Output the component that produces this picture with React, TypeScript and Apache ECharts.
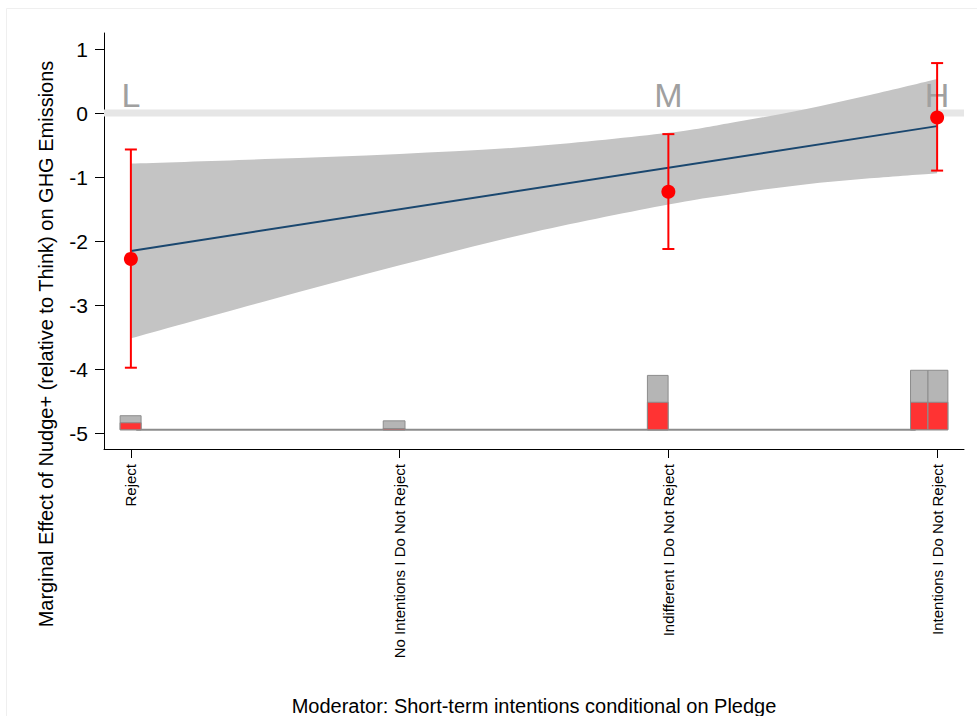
import React, { useEffect, useRef } from "react";
import * as echarts from "echarts";

// ---- Data ----
const categories = [
  "Reject",
  "No Intentions I Do Not Reject",
  "Indifferent I Do Not Reject",
  "Intentions I Do Not Reject",
];
const categoryPositions = [1, 2, 3, 4];
const yTicks = [-5, -4, -3, -2, -1, 0, 1];

const letterLabels = ["L", "M", "H"];
const letterX = [1, 3, 4];
const letterY = 0.28;

const pointX = [1, 3, 4];
const pointEst = [-2.28, -1.23, -0.07];
const ciLow = [-3.98, -2.125, -0.9];
const ciHigh = [-0.57, -0.33, 0.78];

const fitX = [1, 4];
const fitY = [-2.155, -0.205];

const bandX = [1, 1.5, 2, 2.5, 3, 3.25, 3.5, 3.75, 4];
const bandUpper = [-0.79, -0.72, -0.64, -0.52, -0.31, -0.14, 0.05, 0.28, 0.53];
const bandLower = [-3.52, -2.94, -2.38, -1.86, -1.43, -1.26, -1.12, -1.02, -0.94];

const histLeft = [0.96, 1.939, 2.922, 3.901, 3.966];
const histRight = [1.038, 2.02, 2.999, 3.966, 4.04];
const histTotal = [-4.73, -4.81, -4.1, -4.02, -4.02];
const histSubset = [-4.84, -4.93, -4.52, -4.52, -4.52];
const histBase = -4.95;
const baselineX = [1.02, 3.92];

const xTitle = "Moderator: Short-term intentions conditional on Pledge";
const yTitle = "Marginal Effect of Nudge+ (relative to Think) on GHG Emissions";

const FONT = "'Liberation Sans', Arial, Helvetica, sans-serif";

// smooth (Catmull-Rom) path segment through pixel points
function smoothSegs(pts: number[][]): string {
  let d = "";
  for (let i = 0; i < pts.length - 1; i++) {
    const p0 = pts[Math.max(0, i - 1)];
    const p1 = pts[i];
    const p2 = pts[i + 1];
    const p3 = pts[Math.min(pts.length - 1, i + 2)];
    const c1x = p1[0] + (p2[0] - p0[0]) / 6;
    const c1y = p1[1] + (p2[1] - p0[1]) / 6;
    const c2x = p2[0] - (p3[0] - p1[0]) / 6;
    const c2y = p2[1] - (p3[1] - p1[1]) / 6;
    d += ` C ${c1x} ${c1y} ${c2x} ${c2y} ${p2[0]} ${p2[1]}`;
  }
  return d;
}

export default function App() {
  const ref = useRef<HTMLDivElement>(null);

  useEffect(() => {
    if (!ref.current) return;
    const chart = echarts.init(ref.current, undefined, { renderer: "svg" });

    const option: any = {
      animation: false,
      backgroundColor: "#ffffff",
      grid: { left: 104, right: 13, top: 33, bottom: 267, containLabel: false },
      xAxis: {
        type: "value",
        min: 0.9,
        max: 4.1,
        splitLine: { show: false },
        axisLine: { show: true, onZero: false, lineStyle: { color: "#000", width: 1 } },
        axisTick: { show: true, length: 9, customValues: categoryPositions, lineStyle: { color: "#000" } },
        axisLabel: {
          customValues: categoryPositions,
          rotate: 90,
          margin: 15,
          fontSize: 15,
          fontFamily: FONT,
          color: "#000",
          formatter: (v: number) => {
            const i = categoryPositions.indexOf(Math.round(v));
            return i >= 0 ? categories[i] : "";
          },
        },
      },
      yAxis: {
        type: "value",
        min: -5.25,
        max: 1.25,
        splitLine: { show: false },
        axisLine: { show: true, onZero: false, lineStyle: { color: "#000", width: 1 } },
        axisTick: { show: true, length: 9, customValues: yTicks, lineStyle: { color: "#000" } },
        axisLabel: {
          customValues: yTicks,
          margin: 16,
          fontSize: 21,
          fontFamily: FONT,
          color: "#000",
        },
      },
      graphic: [
        {
          type: "rect",
          shape: { x: 6.5, y: 8.5, width: 1000, height: 1000 },
          style: { fill: "none", stroke: "#efefef", lineWidth: 1 },
          silent: true,
          z: -10,
        },
        {
          type: "text",
          x: 534,
          y: 706,
          style: {
            text: xTitle,
            fill: "#000",
            font: `20px ${FONT}`,
            align: "center",
            verticalAlign: "middle",
          },
        },
        {
          type: "text",
          x: 46,
          y: 344,
          rotation: Math.PI / 2,
          style: {
            text: yTitle,
            fill: "#000",
            font: `20px ${FONT}`,
            align: "center",
            verticalAlign: "middle",
          },
        },
      ],
      series: [
        // zero reference line
        {
          type: "line",
          data: [
            [0.9, 0],
            [4.1, 0],
          ],
          showSymbol: false,
          lineStyle: { color: "#e6e6e6", width: 7 },
          silent: true,
          z: 1,
        },
        // confidence band
        {
          type: "custom",
          data: [[1, -1]],
          z: 2,
          silent: true,
          renderItem: (_p: any, api: any) => {
            const up = bandX.map((x, i) => api.coord([x, bandUpper[i]]));
            const lo = bandX.map((x, i) => api.coord([x, bandLower[i]])).reverse();
            const d =
              `M ${up[0][0]} ${up[0][1]}` +
              smoothSegs(up) +
              ` L ${lo[0][0]} ${lo[0][1]}` +
              smoothSegs(lo) +
              " Z";
            return {
              type: "path",
              shape: { pathData: d },
              style: { fill: "#c4c4c4", stroke: "none" },
            };
          },
        },
        // L / M / H letters
        {
          type: "custom",
          data: letterX.map((x, i) => [x, letterY, i]),
          z: 3,
          silent: true,
          renderItem: (p: any, api: any) => {
            const pt = api.coord([api.value(0), api.value(1)]);
            return {
              type: "text",
              x: pt[0],
              y: pt[1],
              style: {
                text: letterLabels[p.dataIndex],
                fill: "#a0a0a0",
                font: `34px ${FONT}`,
                align: "center",
                verticalAlign: "middle",
              },
            };
          },
        },
        // fitted line
        {
          type: "line",
          data: fitX.map((x, i) => [x, fitY[i]]),
          showSymbol: false,
          lineStyle: { color: "#1a476f", width: 2 },
          silent: true,
          z: 4,
        },
        // histogram baseline
        {
          type: "line",
          data: baselineX.map((x) => [x, histBase]),
          showSymbol: false,
          lineStyle: { color: "#8c8c8c", width: 2 },
          silent: true,
          z: 4,
        },
        // histogram bars
        {
          type: "custom",
          data: histLeft.map((x, i) => [x, histRight[i], histTotal[i], histSubset[i]]),
          z: 5,
          silent: true,
          renderItem: (_p: any, api: any) => {
            const x0 = api.value(0);
            const x1 = api.value(1);
            const tot = api.value(2);
            const sub = api.value(3);
            const a = api.coord([x0, tot]);
            const b = api.coord([x1, histBase]);
            const c = api.coord([x0, sub]);
            return {
              type: "group",
              children: [
                {
                  type: "rect",
                  shape: { x: a[0], y: a[1], width: b[0] - a[0], height: b[1] - a[1] },
                  style: { fill: "#b5b5b5", stroke: "#8c8c8c", lineWidth: 1 },
                },
                {
                  type: "rect",
                  shape: { x: c[0], y: c[1], width: b[0] - c[0], height: b[1] - c[1] },
                  style: { fill: "#ff3333", stroke: "#8c8c8c", lineWidth: 1 },
                },
              ],
            };
          },
        },
        // error bars
        {
          type: "custom",
          data: pointX.map((x, i) => [x, ciLow[i], ciHigh[i]]),
          z: 6,
          silent: true,
          renderItem: (_p: any, api: any) => {
            const x = api.value(0);
            const lo = api.coord([x, api.value(1)]);
            const hi = api.coord([x, api.value(2)]);
            const w = 6;
            const st = { stroke: "#ff0000", lineWidth: 2 };
            return {
              type: "group",
              children: [
                { type: "line", shape: { x1: lo[0], y1: lo[1], x2: hi[0], y2: hi[1] }, style: st },
                { type: "line", shape: { x1: lo[0] - w, y1: lo[1], x2: lo[0] + w, y2: lo[1] }, style: st },
                { type: "line", shape: { x1: hi[0] - w, y1: hi[1], x2: hi[0] + w, y2: hi[1] }, style: st },
              ],
            };
          },
        },
        // point estimates
        {
          type: "scatter",
          data: pointX.map((x, i) => [x, pointEst[i]]),
          symbol: "circle",
          symbolSize: 14,
          itemStyle: { color: "#ff0000", opacity: 1 },
          silent: true,
          z: 7,
        },
      ],
    };

    chart.setOption(option);
    return () => chart.dispose();
  }, []);

  return (
    <div
      ref={ref}
      style={{ position: "fixed", left: 0, top: 0, width: 977, height: 716, background: "#fff" }}
    />
  );
}
